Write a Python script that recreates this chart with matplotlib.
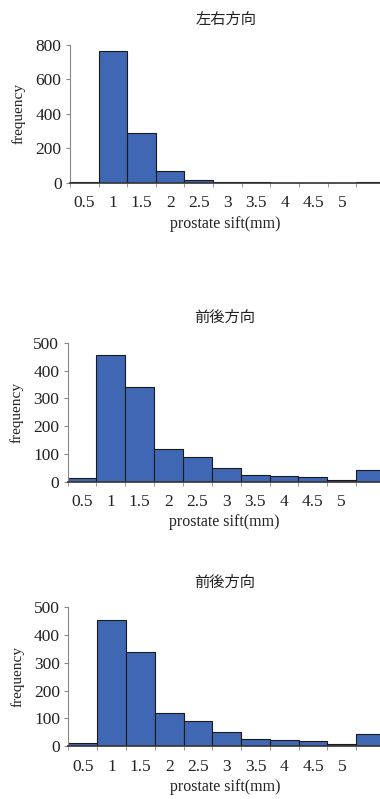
import matplotlib

matplotlib.use("Agg")
import matplotlib.pyplot as plt
import numpy as np

BAR_COLOR = "#3F67B3"
EDGE = "#1A1A1A"
TEXT = "#222222"

BIN_LABELS = ["0.5", "1", "1.5", "2", "2.5", "3", "3.5", "4", "4.5", "5", ""]
LR_COUNTS = [8, 765, 290, 72, 15, 7, 5, 2, 0, 2, 7]
AP_COUNTS = [12, 455, 340, 118, 90, 50, 25, 22, 18, 8, 43]
AP2_COUNTS = [12, 455, 340, 118, 90, 50, 25, 22, 18, 8, 43]

PANELS = [
    ("左右方向", LR_COUNTS, 800, 200, [0.184, 0.771, 0.82, 0.173]),
    ("前後方向", AP_COUNTS, 500, 100, [0.178, 0.397, 0.826, 0.174]),
    ("前後方向", AP2_COUNTS, 500, 100, [0.180, 0.066, 0.824, 0.174]),
]

SERIF = ["Liberation Serif", "Noto Sans CJK JP"]
CJK = ["Noto Sans CJK JP", "DejaVu Sans"]


def draw(ax, title, counts, ymax, ystep):
    x = np.arange(len(counts))
    ax.bar(x, counts, width=1.0, color=BAR_COLOR, edgecolor=EDGE,
           linewidth=0.8, zorder=2)
    ax.set_xlim(-0.5, 10.38)
    ax.set_ylim(0, ymax)
    ax.set_yticks(np.arange(0, ymax + 1, ystep))
    ax.set_xticks(x, BIN_LABELS)
    ax.set_xticks(np.arange(len(counts)) - 0.5, minor=True)
    ax.tick_params(axis="x", which="major", length=0, pad=9, labelsize=12.5,
                   colors=TEXT)
    ax.tick_params(axis="x", which="minor", length=3, color="#888888")
    ax.tick_params(axis="y", length=3, color="#888888", labelsize=12.5,
                   colors=TEXT, pad=3)
    for lab in ax.get_xticklabels() + ax.get_yticklabels():
        lab.set_family(SERIF)
    ax.spines[["top", "right"]].set_visible(False)
    ax.spines["left"].set_color("#888888")
    ax.spines["bottom"].set_color("#333333")
    ax.spines["bottom"].set_linewidth(1.2)
    ax.set_title(title, family=CJK, fontsize=11, color=TEXT, pad=15)
    ax.set_xlabel("prostate sift(mm)", family=SERIF, fontsize=11.5,
                  color=TEXT, labelpad=3)
    ax.set_ylabel("frequency", family=SERIF, fontsize=11, color=TEXT,
                  labelpad=7)


def main():
    fig = plt.figure(figsize=(3.8, 7.99), dpi=100)
    for title, counts, ymax, ystep, rect in PANELS:
        ax = fig.add_axes(rect)
        draw(ax, title, counts, ymax, ystep)
    fig.savefig("out.png", dpi=100, facecolor="white")


if __name__ == "__main__":
    main()
